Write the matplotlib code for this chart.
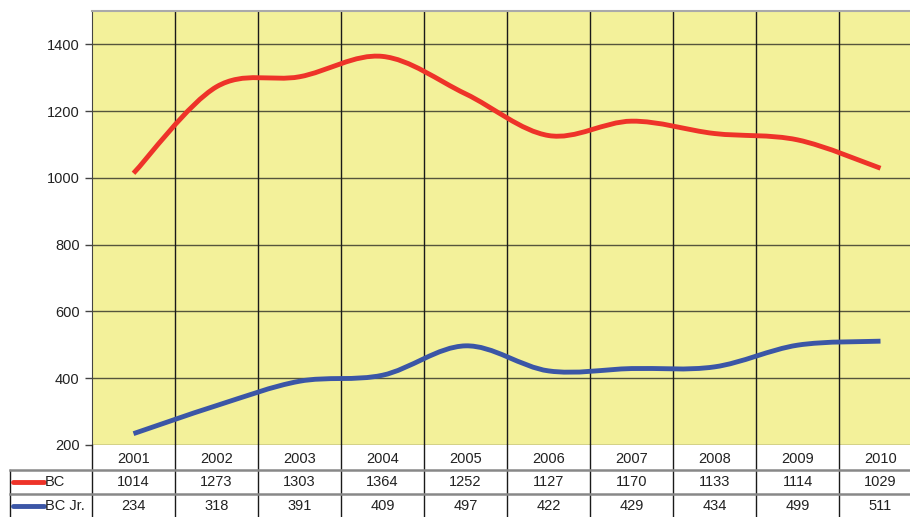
import matplotlib.pyplot as plt
from matplotlib.path import Path
from matplotlib.patches import PathPatch
import numpy as np

years = ['2001', '2002', '2003', '2004', '2005', '2006', '2007', '2008', '2009', '2010']
bc = [1014, 1273, 1303, 1364, 1252, 1127, 1170, 1133, 1114, 1029]
bc_jr = [234, 318, 391, 409, 497, 422, 429, 434, 499, 511]
series_names = ['BC', 'BC Jr.']
series_colors = ['#ee3329', '#3b56a6']
yticks = [200, 400, 600, 800, 1000, 1200, 1400]

plt.rcParams['font.family'] = ['Liberation Sans', 'DejaVu Sans']

W, H = 910, 517
fig = plt.figure(figsize=(W / 100, H / 100), dpi=100)

# plot area; the last column runs off the right edge like the original
x0, x1 = 92, 922
ax = fig.add_axes([x0 / W, (H - 445) / H, (x1 - x0) / W, (445 - 11) / H])
ax.set_facecolor('#f3f19a')
ax.set_xlim(0, len(years))
ax.set_ylim(200, 1500)
ax.set_yticks(yticks)
ax.set_yticklabels([str(v) for v in yticks], fontsize=10.5, color='#222222')
ax.tick_params(axis='y', length=5, width=1, color='#444444', pad=4)
ax.set_xticks([])
ax.grid(axis='y', color='#55553c', linewidth=1.0)
for i in range(1, len(years)):
    ax.axvline(i, color='#1a1a1a', linewidth=1.0)
ax.set_axisbelow(True)
for s in ['right', 'bottom']:
    ax.spines[s].set_visible(False)
ax.spines['left'].set_color('#444444')
ax.spines['top'].set_color('#aaaaaa')
ax.spines['top'].set_linewidth(1.5)


def smooth_path(ys):
    xs = np.arange(len(ys)) + 0.5
    pts = np.column_stack([xs, ys]).astype(float)
    ext = np.vstack([pts[0], pts, pts[-1]])
    verts = [pts[0]]
    codes = [Path.MOVETO]
    for i in range(len(pts) - 1):
        p0, p1, p2, p3 = ext[i], ext[i + 1], ext[i + 2], ext[i + 3]
        c1 = p1 + (p2 - p0) / 6
        c2 = p2 - (p3 - p1) / 6
        verts += [c1, c2, p2]
        codes += [Path.CURVE4] * 3
    return Path(verts, codes)


for vals, col in zip([bc, bc_jr], series_colors):
    ax.add_patch(PathPatch(smooth_path(vals), facecolor='none', edgecolor=col,
                           linewidth=3.5, capstyle='butt', joinstyle='round', zorder=3))

# data table under the plot (pixel rows measured from the plot bottom)
tx0 = 10
tab_h = H - 445
tab = fig.add_axes([tx0 / W, 0, (x1 - tx0) / W, tab_h / H])
col_w = (x1 - x0) / len(years)
left = -(x0 - tx0) / col_w
tab.set_xlim(left, len(years))
tab.set_ylim(tab_h, 0)
tab.axis('off')
row_top = [0, 25, 49]
for i in range(len(years) + 1):
    tab.plot([i, i], [0, tab_h], color='#1a1a1a', lw=1.0, clip_on=False)
tab.plot([left, left], [25, tab_h], color='#1a1a1a', lw=1.0, clip_on=False)
for y in [25, 49]:
    tab.plot([left, len(years)], [y, y], color='#888888', lw=1.8, clip_on=False)

for i, yr in enumerate(years):
    tab.text(i + 0.5, row_top[0] + 14, yr, ha='center', va='center', fontsize=10.5, color='#222222')
for r, (vals, name, col) in enumerate(zip([bc, bc_jr], series_names, series_colors)):
    yc = row_top[r + 1] + 12.5
    for i, v in enumerate(vals):
        tab.text(i + 0.5, yc, str(v), ha='center', va='center', fontsize=10.5, color='#222222')
    tab.plot([left + 2.5 / col_w, left + 34 / col_w], [yc - 0.5, yc - 0.5], color=col, lw=3.5,
             solid_capstyle='round', clip_on=False)
    tab.text(left + 35 / col_w, yc, name, ha='left', va='center', fontsize=10.5, color='#222222')

fig.savefig('out.png', dpi=100)
